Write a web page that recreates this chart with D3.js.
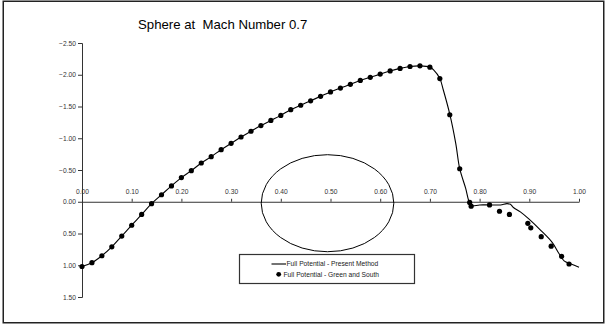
<!DOCTYPE html>
<html>
<head>
<meta charset="utf-8">
<script src="https://cdn.jsdelivr.net/npm/d3@7"></script>
<style>
  html, body { margin: 0; padding: 0; background: #fff; }
  svg { display: block; font-family: "Liberation Sans", Arial, sans-serif; }
</style>
</head>
<body>
<svg id="chart" width="605" height="324"></svg>
<script>
// Surface pressure coefficient on a sphere, M = 0.7
const titleText = "Sphere at  Mach Number 0.7";
const seriesNames = ["Full Potential - Present Method", "Full Potential - Green and South"];

// Present method (solid line): arc position and Cp
const lineX = [0.00, 0.02, 0.04, 0.06, 0.08, 0.10, 0.12, 0.14, 0.16, 0.18,
  0.20, 0.22, 0.24, 0.26, 0.28, 0.30, 0.32, 0.34, 0.36, 0.38,
  0.40, 0.42, 0.44, 0.46, 0.48, 0.50, 0.52, 0.54, 0.56, 0.58,
  0.60, 0.62, 0.64, 0.66, 0.68, 0.70, 0.707, 0.72, 0.727, 0.74,
  0.752, 0.76, 0.772, 0.778, 0.783, 0.80, 0.82, 0.842, 0.855, 0.862,
  0.868, 0.882, 0.899, 0.923, 0.946, 0.96, 0.97, 0.984, 1.00];
const lineCp = [1.02, 0.96, 0.85, 0.71, 0.54, 0.37, 0.20, 0.03, -0.11, -0.25,
  -0.38, -0.49, -0.61, -0.71, -0.82, -0.92, -1.02, -1.11, -1.20, -1.28,
  -1.36, -1.45, -1.52, -1.59, -1.66, -1.73, -1.79, -1.85, -1.91, -1.96,
  -2.01, -2.06, -2.10, -2.13, -2.14, -2.12, -2.08, -1.94, -1.76, -1.38,
  -0.92, -0.52, -0.21, -0.02, 0.06, 0.05, 0.05, 0.05, 0.03, 0.04,
  0.09, 0.16, 0.27, 0.45, 0.64, 0.82, 0.93, 0.98, 1.03];

// Green and South (dots)
const dotX = [0.00, 0.02, 0.04, 0.06, 0.08, 0.10, 0.12, 0.14, 0.16, 0.18,
  0.20, 0.22, 0.24, 0.26, 0.28, 0.30, 0.32, 0.34, 0.36, 0.38,
  0.40, 0.42, 0.44, 0.46, 0.48, 0.50, 0.52, 0.54, 0.56, 0.58,
  0.60, 0.62, 0.64, 0.66, 0.68, 0.70, 0.72, 0.74, 0.76, 0.78,
  0.783, 0.82, 0.84, 0.86, 0.897, 0.903, 0.924, 0.944, 0.965, 0.98];
const dotCp = [1.02, 0.96, 0.85, 0.71, 0.54, 0.37, 0.20, 0.03, -0.11, -0.25,
  -0.38, -0.49, -0.61, -0.71, -0.82, -0.92, -1.02, -1.11, -1.20, -1.28,
  -1.36, -1.45, -1.52, -1.59, -1.66, -1.73, -1.79, -1.85, -1.91, -1.96,
  -2.01, -2.06, -2.10, -2.13, -2.14, -2.12, -1.94, -1.37, -0.52, 0.01,
  0.07, 0.05, 0.15, 0.20, 0.34, 0.41, 0.55, 0.70, 0.86, 0.98];

const xTicks = [0.0, 0.1, 0.2, 0.3, 0.4, 0.5, 0.6, 0.7, 0.8, 0.9, 1.0];
const yTicks = [-2.5, -2.0, -1.5, -1.0, -0.5, 0.0, 0.5, 1.0, 1.5];

// Sphere outline drawn in data units
const sphere = { cx: 0.494, cy: 0.023, rx: 0.1334, ry: 0.764 };

const svg = d3.select("#chart");
const x = d3.scaleLinear().domain([0, 1]).range([82, 579]);
const y = d3.scaleLinear().domain([-2.5, 1.5]).range([43, 297]);
const fmt = d3.format(".2f");
const axisColor = "#333";
const labelSize = "6.7px";

// outer frame
svg.append("rect")
  .attr("x", 3.25).attr("y", 1.25).attr("width", 600.5).attr("height", 321.5)
  .attr("fill", "none").attr("stroke", "#222").attr("stroke-width", 1.5);

// title
svg.append("text")
  .attr("x", 138).attr("y", 29)
  .style("white-space", "pre")
  .attr("font-size", "13.2px").attr("fill", "#000")
  .text(titleText);

// y axis (ticks outward, labels left)
const yAxis = d3.axisLeft(y).tickValues(yTicks).tickFormat(fmt).tickSize(4).tickPadding(2);
const gy = svg.append("g").attr("transform", `translate(${x(0)},0)`).call(yAxis);
gy.select(".domain").attr("stroke", axisColor).attr("stroke-width", 1);
gy.selectAll(".tick line").attr("stroke", axisColor);
gy.selectAll(".tick text").attr("font-size", labelSize).attr("fill", "#333")
  .attr("font-family", "Liberation Sans, Arial, sans-serif");

// x axis along Cp = 0 (ticks pointing up, labels above)
const xAxis = d3.axisTop(x).tickValues(xTicks).tickFormat(fmt).tickSizeInner(3).tickSizeOuter(0).tickPadding(5);
const gx = svg.append("g").attr("transform", `translate(0,${y(0)})`).call(xAxis);
gx.select(".domain").attr("stroke", axisColor).attr("stroke-width", 1);
gx.selectAll(".tick line").attr("stroke", axisColor);
gx.selectAll(".tick text").attr("font-size", labelSize).attr("fill", "#333")
  .attr("font-family", "Liberation Sans, Arial, sans-serif");

// sphere sketch
svg.append("ellipse")
  .attr("cx", x(sphere.cx)).attr("cy", y(sphere.cy))
  .attr("rx", x(sphere.cx + sphere.rx) - x(sphere.cx))
  .attr("ry", y(sphere.cy + sphere.ry) - y(sphere.cy))
  .attr("fill", "none").attr("stroke", "#000").attr("stroke-width", 1);

// present method line
const linePts = lineX.map((v, i) => [v, lineCp[i]]);
svg.append("path")
  .datum(linePts)
  .attr("fill", "none").attr("stroke", "#000").attr("stroke-width", 1.1)
  .attr("d", d3.line().x(d => x(d[0])).y(d => y(d[1])).curve(d3.curveCatmullRom.alpha(0.5)));

// Green and South dots
const dotPts = dotX.map((v, i) => [v, dotCp[i]]);
svg.append("g").selectAll("circle")
  .data(dotPts).join("circle")
  .attr("cx", d => x(d[0])).attr("cy", d => y(d[1]))
  .attr("r", 2.6).attr("fill", "#000");

// legend
const lg = svg.append("g");
lg.append("rect")
  .attr("x", 239.5).attr("y", 254.5).attr("width", 175).attr("height", 29)
  .attr("fill", "#fff").attr("stroke", "#333").attr("stroke-width", 1.2);
lg.append("line")
  .attr("x1", 271.5).attr("x2", 286).attr("y1", 264).attr("y2", 264)
  .attr("stroke", "#000").attr("stroke-width", 1.1);
lg.append("text")
  .attr("x", 286.5).attr("y", 266.4).attr("font-size", labelSize).attr("fill", "#222")
  .text(seriesNames[0]);
lg.append("circle")
  .attr("cx", 278.7).attr("cy", 274.3).attr("r", 2.4).attr("fill", "#000");
lg.append("text")
  .attr("x", 283.5).attr("y", 276.7).attr("font-size", labelSize).attr("fill", "#222")
  .text(seriesNames[1]);
</script>
</body>
</html>
